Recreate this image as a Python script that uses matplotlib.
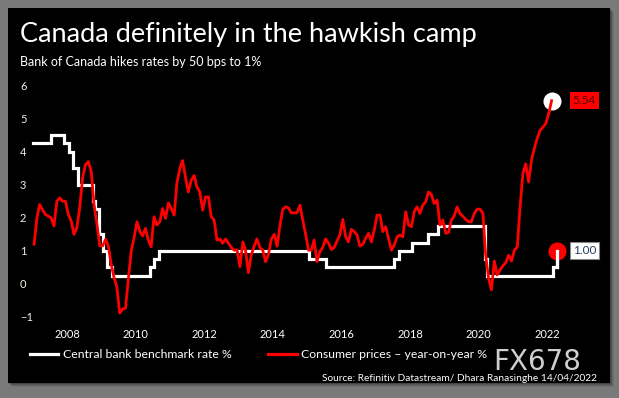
import numpy as np
import pandas as pd
import matplotlib
matplotlib.use("Agg")
import matplotlib.pyplot as plt
import matplotlib.dates as mdates
from matplotlib.patches import Rectangle
from matplotlib.lines import Line2D

# ── data ─────────────────────────────────────────────────────────────────────
cpi_start = "2007-01"
cpi_yoy = [
    1.20, 2.00, 2.40, 2.25, 2.10, 2.05, 2.00, 1.75, 2.50, 2.60, 2.50, 2.50,   # 2007
    2.10, 1.90, 1.50, 1.70, 2.30, 3.20, 3.60, 3.70, 3.40, 2.40, 1.80, 1.15,   # 2008
    1.15, 1.35, 1.15, 0.60, 0.20, -0.10, -0.88, -0.76, -0.73, 0.15, 1.00, 1.40,  # 2009
    1.88, 1.58, 1.45, 1.68, 1.33, 1.12, 2.03, 1.78, 1.88, 2.28, 1.98, 2.45,   # 2010
    2.28, 2.08, 3.03, 3.48, 3.73, 3.23, 2.78, 3.13, 3.28, 2.93, 2.78, 2.23,   # 2011
    2.63, 2.63, 2.03, 1.93, 1.33, 1.36, 1.23, 1.36, 1.23, 1.10, 1.02, 1.03,   # 2012
    0.52, 1.27, 1.02, 0.34, 0.87, 1.14, 1.36, 1.10, 1.02, 0.67, 0.90, 1.35,   # 2013
    1.50, 1.14, 1.73, 2.25, 2.33, 2.30, 2.15, 2.15, 2.15, 2.38, 1.93, 1.50,   # 2014
    1.02, 1.02, 1.33, 0.67, 0.97, 1.10, 1.36, 1.24, 1.04, 1.10, 1.30, 1.48,   # 2015
    1.95, 1.42, 1.27, 1.65, 1.58, 1.48, 1.14, 1.20, 1.38, 1.53, 1.27, 1.63,   # 2016
    2.08, 2.08, 1.58, 1.73, 1.38, 1.02, 1.17, 1.42, 1.48, 1.42, 2.18, 1.78,   # 2017
    1.73, 2.20, 2.33, 2.13, 2.38, 2.48, 2.78, 2.70, 2.43, 2.53, 1.78, 1.93,   # 2018
    1.53, 1.56, 1.93, 2.05, 2.33, 2.13, 2.05, 1.95, 1.88, 1.88, 2.13, 2.26,   # 2019
    2.26, 2.13, 0.87, 0.17, -0.18, 0.69, 0.27, 0.42, 0.55, 0.64, 0.87, 0.69,  # 2020
    1.02, 1.12, 2.28, 3.33, 3.63, 3.08, 3.73, 4.10, 4.40, 4.64, 4.74, 4.85,   # 2021
    5.15, 5.54,                                                               # 2022
]

rate_dates = [
    "2007-01-01", "2007-07-10", "2007-12-04", "2008-01-22", "2008-03-04",
    "2008-04-22", "2008-10-08", "2008-10-21", "2008-12-09", "2009-01-20",
    "2009-03-03", "2009-04-21", "2010-06-01", "2010-07-20", "2010-09-08",
    "2015-01-21", "2015-07-15", "2017-07-12", "2017-09-06", "2018-01-17",
    "2018-07-11", "2018-10-24", "2020-03-04", "2020-03-13", "2020-03-27",
    "2022-03-02", "2022-04-13",
]
rate_values = [
    4.25, 4.50, 4.25, 4.00, 3.50, 3.00, 2.50, 2.25, 1.50, 1.00,
    0.50, 0.25, 0.50, 0.75, 1.00, 0.75, 0.50, 0.75, 1.00, 1.25,
    1.50, 1.75, 1.25, 0.75, 0.25, 0.50, 1.00,
]

y_ticks = [-1, 0, 1, 2, 3, 4, 5, 6]
x_tick_years = [2008, 2010, 2012, 2014, 2016, 2018, 2020, 2022]

title = "Canada definitely in the hawkish camp"
subtitle = "Bank of Canada hikes rates by 50 bps to 1%"
source = "Source: Refinitiv Datastream/ Dhara Ranasinghe 14/04/2022"
rate_label = "Central bank benchmark rate %"
cpi_label = "Consumer prices \u2013 year-on-year %"

# ── layout ───────────────────────────────────────────────────────────────────
W, H = 619, 398
DPI = 100
plt.rcParams["font.family"] = ["Lato", "DejaVu Sans"]

def fx(px): return px / W
def fy(py): return 1 - py / H

fig = plt.figure(figsize=(W / DPI, H / DPI), dpi=DPI, facecolor="#7a7a7a")

# soft shadow + black panel
for i, a in enumerate([0.10, 0.15, 0.22, 0.30]):
    off = 4 - i
    fig.patches.append(Rectangle((fx(8 + off), fy(383 + off)), fx(602), 375 / H,
                                 transform=fig.transFigure, facecolor="#202020",
                                 alpha=a, edgecolor="none", zorder=0))
fig.patches.append(Rectangle((fx(8), fy(383)), fx(602), 375 / H,
                             transform=fig.transFigure, facecolor="black",
                             edgecolor="none", zorder=1))

ax = fig.add_axes([fx(30), fy(322), fx(575 - 30), (322 - 80) / H])
ax.set_zorder(3)
ax.set_facecolor("none")
for s in ax.spines.values():
    s.set_visible(False)

cpi_dates = pd.date_range(cpi_start, periods=len(cpi_yoy), freq="MS") + pd.Timedelta(days=14)
r_dates = pd.to_datetime(rate_dates)

ax.plot(r_dates, rate_values, color="white", lw=2.3, drawstyle="steps-post",
        solid_joinstyle="miter", zorder=3)
ax.plot(cpi_dates, cpi_yoy, color="#ff0000", lw=2.0, zorder=4)

# end markers (line tips drawn over them, as in the original)
ax.plot(cpi_dates[-1], cpi_yoy[-1], "o", ms=13, color="white", mec="none", zorder=5)
ax.plot(r_dates[-1], rate_values[-1], "o", ms=13, color="#ff0000", mec="none", zorder=5)
ax.plot(cpi_dates[-2:], cpi_yoy[-2:], color="#ff0000", lw=2.0, zorder=6)
ax.plot([r_dates[-1], r_dates[-1]], [rate_values[-2], rate_values[-1]],
        color="white", lw=2.3, zorder=6)

ax.annotate(f"{cpi_yoy[-1]:.2f}", xy=(cpi_dates[-1], cpi_yoy[-1]), xytext=(21, 0),
            textcoords="offset pixels", ha="left", va="center", fontsize=8.5,
            color="#4a0000", annotation_clip=False,
            bbox=dict(boxstyle="square,pad=0.25", fc="#ff0000", ec="none"))
ax.annotate(f"{rate_values[-1]:.2f}", xy=(r_dates[-1], rate_values[-1]), xytext=(16, 0),
            textcoords="offset pixels", ha="left", va="center", fontsize=8.5,
            color="#243a5e", annotation_clip=False,
            bbox=dict(boxstyle="square,pad=0.25", fc="white", ec="#888888", lw=0.8))

# axes scales
ax.set_ylim((283.9 - 322) / 33.07, (283.9 - 80) / 33.07)
ax.set_xlim(pd.Timestamp("2006-12-03"), pd.Timestamp("2022-10-22"))
ax.set_yticks(y_ticks)
ax.set_xticks([pd.Timestamp(f"{y}-01-01") for y in x_tick_years])
ax.xaxis.set_major_formatter(mdates.DateFormatter("%Y"))
ax.tick_params(axis="both", length=0, labelsize=8)
ax.tick_params(axis="y", pad=7.2, colors="#f3efe2")
ax.tick_params(axis="x", pad=5, colors="white")
for lab in ax.get_yticklabels():
    lab.set_horizontalalignment("left")

# titles
fig.text(fx(20), fy(42), title, color="white", fontsize=19.5, va="baseline", ha="left")
fig.text(fx(20), fy(66), subtitle, color="white", fontsize=9, va="baseline", ha="left")

# legend
handles = [Line2D([], [], color="white", lw=2.3), Line2D([], [], color="#ff0000", lw=2.3)]
fig.legend(handles, [rate_label, cpi_label], loc="center left",
           bbox_to_anchor=(fx(30), fy(355)), ncol=2, frameon=False,
           fontsize=8.8, labelcolor="white", handlelength=2.3, handletextpad=0.4,
           columnspacing=3.0, borderaxespad=0, borderpad=0)

fig.text(fx(493), fy(370), "FX678", color="#cfcfcf", fontsize=20,
         family="DejaVu Sans", ha="left", va="baseline", zorder=10)
fig.text(fx(597), fy(381), source, color="white", fontsize=7.3, ha="right", va="baseline")

fig.savefig("out.png", dpi=DPI, facecolor=fig.get_facecolor())
